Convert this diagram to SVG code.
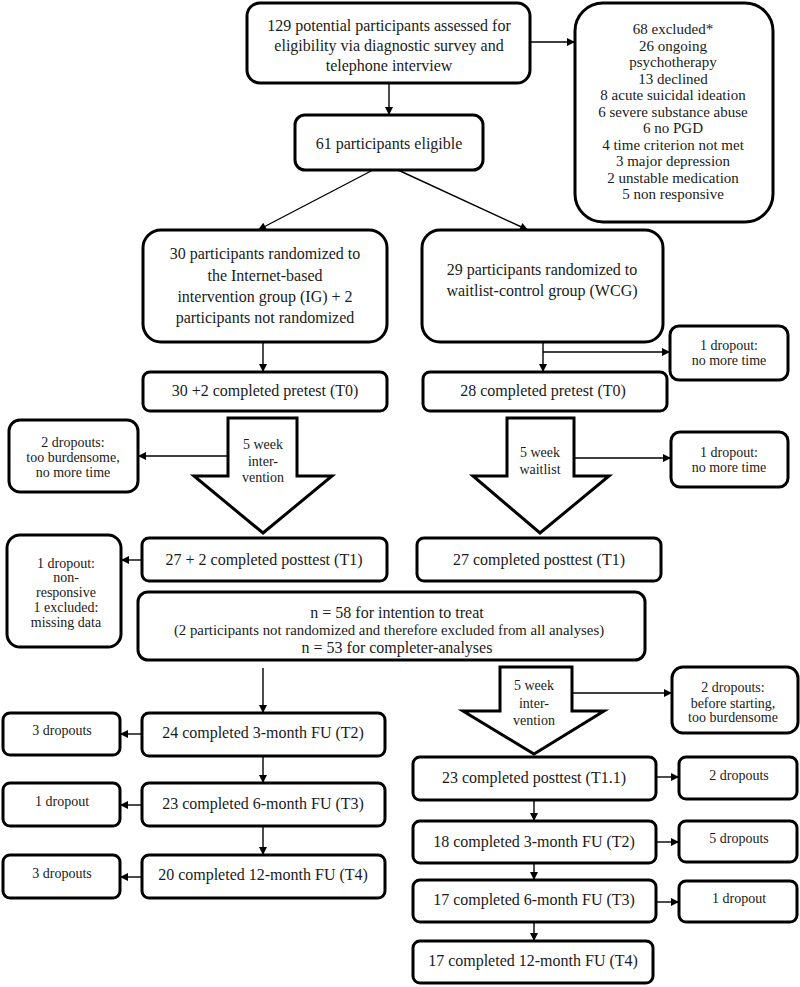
<svg xmlns="http://www.w3.org/2000/svg" width="800" height="987" viewBox="0 0 800 987">
<defs>
<marker id="ah" viewBox="0 0 10 10" refX="10" refY="5" markerWidth="9" markerHeight="8" markerUnits="userSpaceOnUse" orient="auto">
<path d="M0,0 L10,5 L0,10 z" fill="#000"/>
</marker>
<style>
.b{fill:#fff;stroke:#000;stroke-width:3}
.c{fill:none;stroke:#000;stroke-width:1.4;marker-end:url(#ah)}
text{font-family:"Liberation Serif","DejaVu Serif",serif;fill:#1a1a1a;text-anchor:middle;dominant-baseline:central}
.m{font-size:16px}
.s{font-size:14px}
.x{font-size:15px}
.n{font-size:14.8px}
</style>
</defs>
<rect width="800" height="987" fill="#fff"/>
<g id="connectors">
<line class="c" x1="389" y1="83" x2="389" y2="115"/>
<line class="c" x1="530" y1="42" x2="575" y2="42"/>
<line class="c" x1="373" y1="170" x2="258" y2="230"/>
<line class="c" x1="398" y1="170" x2="528" y2="230"/>
<line class="c" x1="263" y1="342" x2="263" y2="372"/>
<line class="c" x1="543" y1="342" x2="543" y2="372"/>
<line class="c" x1="543" y1="352" x2="670" y2="352"/>
<line class="c" x1="228" y1="456" x2="138" y2="456"/>
<line class="c" x1="574" y1="458" x2="671" y2="458"/>
<line class="c" x1="142" y1="560" x2="121" y2="560"/>
<line class="c" x1="263" y1="668" x2="263" y2="713"/>
<line class="c" x1="142" y1="734" x2="120" y2="734"/>
<line class="c" x1="263" y1="756" x2="263" y2="783"/>
<line class="c" x1="142" y1="805" x2="120" y2="805"/>
<line class="c" x1="263" y1="826" x2="263" y2="855"/>
<line class="c" x1="142" y1="877" x2="120" y2="877"/>
<line class="c" x1="572" y1="693" x2="672" y2="693"/>
<line class="c" x1="656" y1="777" x2="679" y2="777"/>
<line class="c" x1="534" y1="800" x2="534" y2="821"/>
<line class="c" x1="656" y1="842" x2="679" y2="842"/>
<line class="c" x1="534" y1="863" x2="534" y2="880"/>
<line class="c" x1="656" y1="902" x2="679" y2="902"/>
<line class="c" x1="534" y1="922" x2="534" y2="941"/>
</g>
<g id="assessed">
<rect class="b" x="247" y="3" width="283" height="80" rx="13"/>
<text class="m" x="389" y="25">129 potential participants assessed for</text>
<text class="m" x="389" y="45">eligibility via diagnostic survey and</text>
<text class="m" x="389" y="65">telephone interview</text>
</g>
<g id="excluded">
<rect class="b" x="575" y="3" width="198" height="219" rx="28"/>
<text class="x" x="673" y="29">68 excluded*</text>
<text class="x" x="673" y="46">26 ongoing</text>
<text class="x" x="673" y="62">psychotherapy</text>
<text class="x" x="673" y="79">13 declined</text>
<text class="x" x="673" y="95">8 acute suicidal ideation</text>
<text class="x" x="673" y="112">6 severe substance abuse</text>
<text class="x" x="673" y="128">6 no PGD</text>
<text class="x" x="673" y="145">4 time criterion not met</text>
<text class="x" x="673" y="161">3 major depression</text>
<text class="x" x="673" y="178">2 unstable medication</text>
<text class="x" x="673" y="194">5 non responsive</text>
</g>
<g id="eligible">
<rect class="b" x="295" y="115" width="188" height="55" rx="10"/>
<text class="m" x="389" y="143">61 participants eligible</text>
</g>
<g id="ig">
<rect class="b" x="143" y="230" width="244" height="112" rx="18"/>
<text class="m" x="265" y="253">30 participants randomized to</text>
<text class="m" x="265" y="275">the Internet-based</text>
<text class="m" x="265" y="296">intervention group (IG) + 2</text>
<text class="m" x="265" y="317">participants not randomized</text>
</g>
<g id="wcg">
<rect class="b" x="422" y="230" width="241" height="112" rx="18"/>
<text class="m" x="542" y="269">29 participants randomized to</text>
<text class="m" x="542" y="290">waitlist-control group (WCG)</text>
</g>
<g id="wcg-drop0">
<rect class="b" x="670" y="326" width="118" height="54" rx="9"/>
<text class="s" x="729" y="345">1 dropout:</text>
<text class="s" x="729" y="360">no more time</text>
</g>
<g id="ig-t0">
<rect class="b" x="143" y="372" width="244" height="39" rx="7"/>
<text class="m" x="265" y="390">30 +2 completed pretest (T0)</text>
</g>
<g id="wcg-t0">
<rect class="b" x="423" y="372" width="244" height="39" rx="7"/>
<text class="m" x="543" y="390">28 completed pretest (T0)</text>
</g>
<g id="ig-arrow">
<polygon class="b" points="228,418 297,418 297,476 332,476 263,533 194,476 228,476"/>
<text class="s" x="263" y="444">5 week</text>
<text class="s" x="263" y="461">inter-</text>
<text class="s" x="263" y="477">vention</text>
</g>
<g id="ig-drop1">
<rect class="b" x="9" y="420" width="129" height="72" rx="11"/>
<text class="s" x="73" y="442">2 dropouts:</text>
<text class="s" x="73" y="457">too burdensome,</text>
<text class="s" x="73" y="472">no more time</text>
</g>
<g id="wcg-arrow">
<polygon class="b" points="507,418 574,418 574,476 609,476 540,533 473,476 507,476"/>
<text class="s" x="540" y="452">5 week</text>
<text class="s" x="540" y="469">waitlist</text>
</g>
<g id="wcg-drop1">
<rect class="b" x="671" y="432" width="117" height="55" rx="9"/>
<text class="s" x="729" y="452">1 dropout:</text>
<text class="s" x="729" y="467">no more time</text>
</g>
<g id="ig-t1">
<rect class="b" x="142" y="538" width="245" height="43" rx="7"/>
<text class="m" x="264" y="559">27 + 2 completed posttest (T1)</text>
</g>
<g id="ig-drop2">
<rect class="b" x="7" y="535" width="114" height="112" rx="13"/>
<text class="s" x="66" y="563">1 dropout:</text>
<text class="s" x="66" y="577">non-</text>
<text class="s" x="66" y="592">responsive</text>
<text class="s" x="66" y="607">1 excluded:</text>
<text class="s" x="66" y="622">missing data</text>
</g>
<g id="wcg-t1">
<rect class="b" x="417" y="538" width="244" height="43" rx="7"/>
<text class="m" x="539" y="559">27 completed posttest (T1)</text>
</g>
<g id="analysis">
<rect class="b" x="138" y="592" width="507" height="68" rx="10"/>
<text class="m" x="397" y="612">n = 58 for intention to treat</text>
<text class="n" x="389" y="630">(2 participants not randomized and therefore excluded from all analyses)</text>
<text class="m" x="397" y="647">n = 53 for completer-analyses</text>
</g>
<g id="ig-t2">
<rect class="b" x="142" y="713" width="243" height="43" rx="7"/>
<text class="m" x="263" y="732">24 completed 3-month FU (T2)</text>
</g>
<g id="ig-drop3">
<rect class="b" x="3" y="713" width="117" height="42" rx="7"/>
<text class="s" x="62" y="730">3 dropouts</text>
</g>
<g id="ig-t3">
<rect class="b" x="142" y="783" width="243" height="43" rx="7"/>
<text class="m" x="263" y="803">23 completed 6-month FU (T3)</text>
</g>
<g id="ig-drop4">
<rect class="b" x="3" y="783" width="117" height="43" rx="7"/>
<text class="s" x="62" y="801">1 dropout</text>
</g>
<g id="ig-t4">
<rect class="b" x="142" y="855" width="243" height="43" rx="7"/>
<text class="m" x="263" y="874">20 completed 12-month FU (T4)</text>
</g>
<g id="ig-drop5">
<rect class="b" x="3" y="855" width="117" height="43" rx="7"/>
<text class="s" x="62" y="873">3 dropouts</text>
</g>
<g id="wcg-arrow2">
<polygon class="b" points="500,667 572,667 572,711 604,711 534,754 463,711 500,711"/>
<text class="s" x="534" y="685">5 week</text>
<text class="s" x="534" y="703">inter-</text>
<text class="s" x="534" y="720">vention</text>
</g>
<g id="wcg-drop2">
<rect class="b" x="672" y="667" width="126" height="66" rx="11"/>
<text class="s" x="733" y="687">2 dropouts:</text>
<text class="s" x="733" y="703">before starting,</text>
<text class="s" x="733" y="717">too burdensome</text>
</g>
<g id="wcg-t11">
<rect class="b" x="413" y="757" width="243" height="43" rx="7"/>
<text class="m" x="534" y="777">23 completed posttest (T1.1)</text>
</g>
<g id="wcg-drop3">
<rect class="b" x="679" y="757" width="118" height="42" rx="7"/>
<text class="s" x="739" y="775">2 dropouts</text>
</g>
<g id="wcg-t2">
<rect class="b" x="413" y="821" width="243" height="42" rx="7"/>
<text class="m" x="534" y="841">18 completed 3-month FU (T2)</text>
</g>
<g id="wcg-drop4">
<rect class="b" x="679" y="821" width="118" height="41" rx="7"/>
<text class="s" x="739" y="838">5 dropouts</text>
</g>
<g id="wcg-t3">
<rect class="b" x="413" y="880" width="243" height="42" rx="7"/>
<text class="m" x="534" y="899">17 completed 6-month FU (T3)</text>
</g>
<g id="wcg-drop5">
<rect class="b" x="679" y="881" width="118" height="41" rx="7"/>
<text class="s" x="739" y="898">1 dropout</text>
</g>
<g id="wcg-t4">
<rect class="b" x="413" y="941" width="240" height="42" rx="7"/>
<text class="m" x="533" y="960">17 completed 12-month FU (T4)</text>
</g>
</svg>
